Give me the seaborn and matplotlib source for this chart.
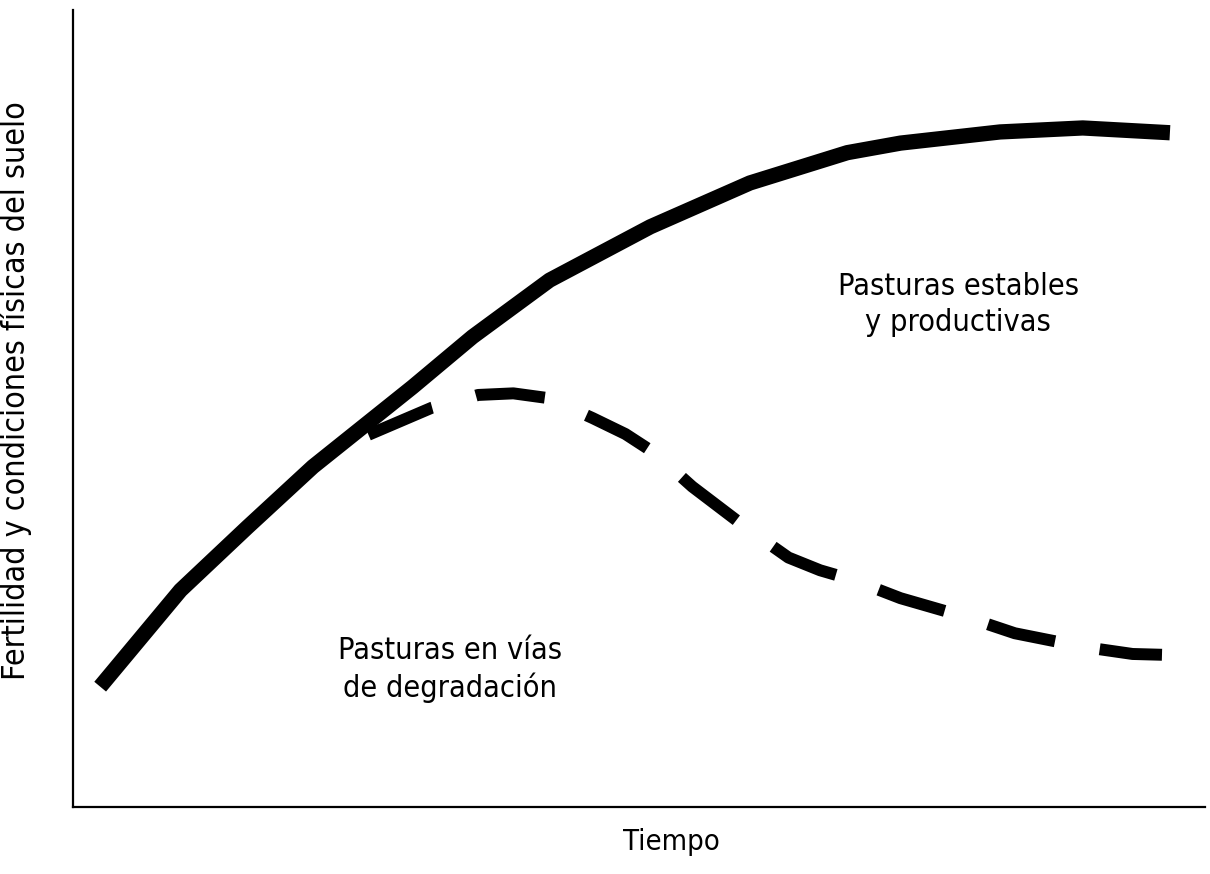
import seaborn as sns
import matplotlib.pyplot as plt
import pandas as pd

# curva estable (tiempo, fertilidad)
tiempo_estable = [0.24, 0.95, 1.54, 2.12, 2.56, 3.00, 3.53, 4.21, 5.10,
                  5.98, 6.84, 7.31, 8.19, 8.92, 9.69]
fert_estable = [1.51, 2.72, 3.51, 4.27, 4.77, 5.27, 5.90, 6.61, 7.28,
                7.83, 8.21, 8.33, 8.47, 8.52, 8.46]

# curva en degradacion
tiempo_degr = [2.61, 3.17, 3.58, 3.89, 4.20, 4.59, 4.88, 5.14, 5.47, 5.72,
               5.97, 6.32, 6.60, 6.89, 7.31, 7.92, 8.32, 8.92, 9.36, 9.62]
fert_degr = [4.67, 5.01, 5.17, 5.19, 5.13, 4.88, 4.68, 4.44, 4.02, 3.75,
             3.48, 3.13, 2.97, 2.85, 2.62, 2.37, 2.18, 2.01, 1.92, 1.91]

sns.set_style('white')
plt.rcParams['font.family'] = ['DejaVu Sans']
plt.rcParams['font.stretch'] = 'condensed'
plt.rcParams['text.color'] = 'k'
plt.rcParams['axes.labelcolor'] = 'k'

f = plt.figure(figsize=(12.1, 8.74), dpi=100)
ax = f.add_axes([73/1210, 1-807/874, 1132/1210, 797/874])

d1 = pd.DataFrame({'t': tiempo_estable, 'y': fert_estable})
d2 = pd.DataFrame({'t': tiempo_degr, 'y': fert_degr})
sns.lineplot(data=d1, x='t', y='y', ax=ax, color='k', lw=11, sort=False,
             solid_capstyle='butt', solid_joinstyle='round')
sns.lineplot(data=d2, x='t', y='y', ax=ax, color='k', lw=8.6, sort=False,
             dashes=False, linestyle=(0, (5.8, 3.8)), dash_capstyle='butt')

ax.set_xlim(0, 10)
ax.set_ylim(0, 10)
ax.set_xticks([])
ax.set_yticks([])
for s in ['top', 'right']:
    ax.spines[s].set_visible(False)
for s in ['left', 'bottom']:
    ax.spines[s].set_color('k')
    ax.spines[s].set_linewidth(1.6)

ax.set_xlabel('Tiempo', fontsize=21)
ax.set_ylabel('Fertilidad y condiciones físicas del suelo', fontsize=23)
ax.xaxis.set_label_coords(0.529, -0.026)
ax.yaxis.set_label_coords(-0.036, 0.523)

ax.text(7.82, 6.30, 'Pasturas estables\ny productivas', fontsize=22,
        ha='center', va='center', linespacing=1.3)
ax.text(3.33, 1.72, 'Pasturas en vías\nde degradación', fontsize=22,
        ha='center', va='center', linespacing=1.3)

plt.savefig('out.png', dpi=100)
